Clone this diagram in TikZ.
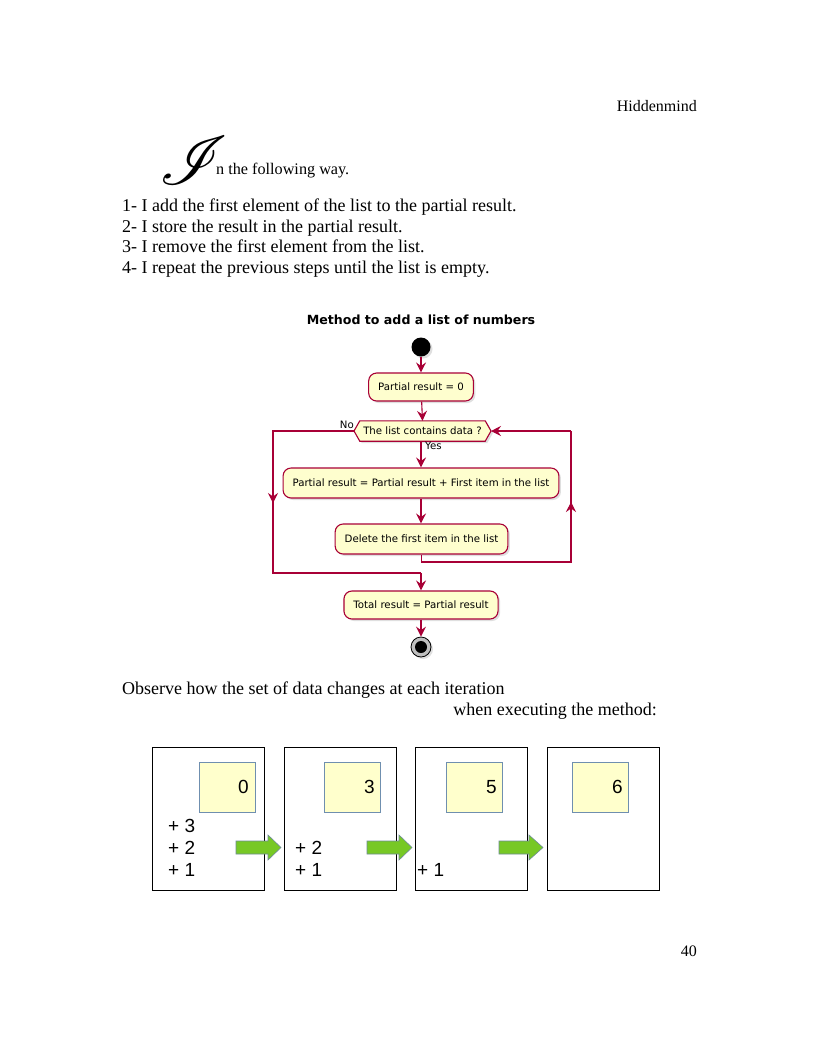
\documentclass[tikz,border=0pt]{standalone}
\usepackage{graphicx}
\usepackage{fontspec}
\setmainfont{Liberation Serif}
\newfontfamily\dejavu{DejaVu Sans}
\newfontfamily\lsans{Liberation Sans}
\usepackage{mathrsfs}
\usetikzlibrary{arrows.meta,shadows}
\definecolor{umlfill}{HTML}{FEFECE}
\definecolor{umlline}{HTML}{A80036}
\definecolor{panelyel}{HTML}{FFFFCC}
\definecolor{panelblue}{HTML}{6F8FAF}
\definecolor{garrowfill}{HTML}{77C825}
\definecolor{garrowline}{HTML}{6E8C96}
\tikzset{
  bodytext/.style={inner sep=0pt, font=\fontsize{18}{22}\selectfont},
  smalltext/.style={inner sep=0pt, font=\fontsize{16}{20}\selectfont},
  umlbox/.style={draw=umlline, line width=1.1pt, fill=umlfill, rounded corners=8pt,
     minimum height=29pt, inner xsep=9.5pt, font=\dejavu\fontsize{10.2}{12}\selectfont,
     drop shadow={shadow xshift=2pt, shadow yshift=-2pt, opacity=0.25}},
  umlarr/.style={draw=umlline, line width=1.1pt, -{Stealth[length=10pt,width=10pt,inset=3.5pt]}},
  umlline/.style={draw=umlline, line width=1.1pt},
  umllabel/.style={inner sep=0pt, font=\dejavu\fontsize{10.2}{12}\selectfont},
  panel/.style={draw=black, line width=0.8pt, fill=white, minimum width=112pt, minimum height=143pt, inner sep=0pt},
  valbox/.style={draw=panelblue, line width=0.8pt, fill=panelyel, minimum width=56pt, minimum height=50pt, inner sep=0pt},
  valtext/.style={inner sep=0pt, font=\lsans\fontsize{19}{22}\selectfont},
  garrow/.style={draw=garrowline, line width=0.6pt, fill=garrowfill},
}
\begin{document}
\begin{tikzpicture}[x=1pt,y=-1pt]
\useasboundingbox[fill=white] (0,0) rectangle (817,1057);

% header
\node[smalltext, anchor=base east] (hdr) at (697,111) {Hiddenmind};
\node[inner sep=0pt, anchor=south west] (bigI) at (159,185) {\resizebox*{!}{48pt}{$\mathscr{I}$}};
\node[inner sep=0pt, anchor=base west, font=\fontsize{16.2}{20}\selectfont] (intro) at (216,174) {n the following way.};
\node[bodytext, anchor=base west] (l1) at (122,211) {1- I add the first element of the list to the partial result.};
\node[bodytext, anchor=base west] (l2) at (122,232) {2- I store the result in the partial result.};
\node[bodytext, anchor=base west] (l3) at (122,252) {3- I remove the first element from the list.};
\node[bodytext, anchor=base west] (l4) at (122,273) {4- I repeat the previous steps until the list is empty.};

% flowchart
\node[inner sep=0pt, font=\dejavu\bfseries\fontsize{12.6}{14}\selectfont] (title) at (421,320) {Method to add a list of numbers};
\node[circle, fill=black, minimum size=19pt, inner sep=0pt,
      drop shadow={shadow xshift=2pt, shadow yshift=-2pt, opacity=0.25}] (start) at (421,347) {};
\node[umlbox, minimum height=28pt] (p0) at (421,387) {Partial result = 0};
\node[inner sep=0pt, minimum width=125pt, minimum height=20pt] (dec) at (422.5,431) {};
\coordinate (decL) at (354,431);
\coordinate (decR) at (491,431);
\path[draw=umlline, line width=1.1pt, fill=umlfill,
      drop shadow={shadow xshift=2pt, shadow yshift=-2pt, opacity=0.25}]
  (decL) -- (dec.north west) -- (dec.north east) -- (decR) -- (dec.south east) -- (dec.south west) -- cycle;
\node[umllabel] (dectext) at (dec.center) {The list contains data ?};
\node[umlbox, minimum height=30pt] (p1) at (421,483) {Partial result = Partial result + First item in the list};
\node[umlbox, minimum height=30pt] (del) at (421.5,539) {Delete the first item in the list};
\node[umlbox, minimum height=28pt] (tot) at (421,605) {Total result = Partial result};
\node[circle, draw=black, line width=0.8pt, fill=black!25, minimum size=20pt, inner sep=0pt,
      drop shadow={shadow xshift=2pt, shadow yshift=-2pt, opacity=0.25}] (stop) at (421,647) {};
\node[circle, fill=black, minimum size=12pt, inner sep=0pt] (stopin) at (stop.center) {};

\draw[umlarr] (start) -- (p0);
\draw[umlarr] (p0) -- (dec.north);
\draw[umlarr] (dec.south -| p1.north) -- (p1);
\node[umllabel, anchor=west] (yes) at (425,446) {Yes};
\node[umllabel, anchor=east] (no) at (354,425) {No};
\draw[umlarr] (p1) -- (del.north -| p1.south);

% loop back
\coordinate (r1) at (571,562);
\coordinate (rmid) at (571,502);
\coordinate (r2) at (571,431);
\draw[umlline] (del.south) |- (r1) -- (r2);
\draw[umlarr] (r1) -- (rmid);
\draw[umlarr] (r2) -- (decR);

% no branch
\coordinate (n1) at (273,431);
\coordinate (nmid) at (273,503);
\coordinate (n2) at (273,573);
\coordinate (n3) at (421,573);
\draw[umlline] (decL) -- (n1) -- (n2) -- (n3);
\draw[umlarr] (n1) -- (nmid);
\draw[umlarr] (n3) -- (tot);
\draw[umlarr] (tot) -- (stop);

% observe text
\node[bodytext, anchor=base west] (obs1) at (122,694) {Observe how the set of data changes at each iteration};
\node[bodytext, anchor=base east] (obs2) at (657,715) {when executing the method:};

% panels
\node[panel] (pa) at (208,818.5) {};
\node[panel] (pb) at (340,818.5) {};
\node[panel] (pc) at (471,818.5) {};
\node[panel] (pd) at (603,818.5) {};
\node[valbox] (va) at (227,787) {};
\node[valbox] (vb) at (352,787) {};
\node[valbox] (vc) at (474.5,787) {};
\node[valbox] (vd) at (600,787) {};
\node[valtext, anchor=base east] (na) at (249,793) {0};
\node[valtext, anchor=base east] (nb) at (375,793) {3};
\node[valtext, anchor=base east] (nc) at (497,793) {5};
\node[valtext, anchor=base east] (nd) at (623,793) {6};

\node[valtext, anchor=base west] (a3) at (168,832) {+ 3};
\node[valtext, anchor=base west] (a2) at (168,854) {+ 2};
\node[valtext, anchor=base west] (a1) at (168,876) {+ 1};
\node[valtext, anchor=base west] (b2) at (295,854) {+ 2};
\node[valtext, anchor=base west] (b1) at (295,876) {+ 1};
\node[valtext, anchor=base west] (c1) at (417,876) {+ 1};

% green arrows
\foreach \xs/\xh/\xt in {236/268/281, 367/399/412, 499/529/543} {
  \draw[garrow] (\xs,841) -- (\xh,841) -- (\xh,835) -- (\xt,847.5) -- (\xh,860) -- (\xh,854) -- (\xs,854) -- cycle;
}

% page number
\node[smalltext, anchor=base east] (pnum) at (697,956) {40};
\end{tikzpicture}
\end{document}
